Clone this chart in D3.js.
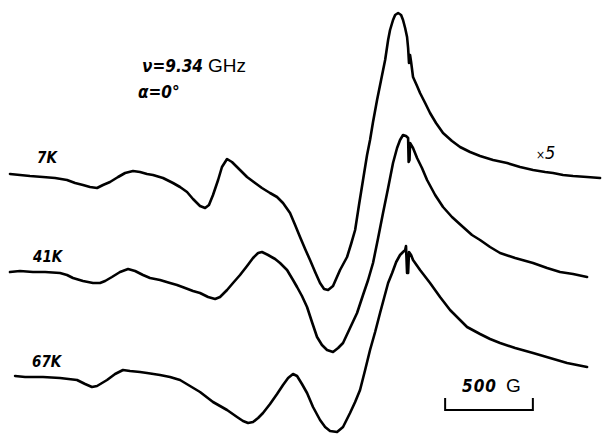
<!DOCTYPE html>
<html>
<head>
<meta charset="utf-8">
<script src="https://cdn.jsdelivr.net/npm/d3@7"></script>
<style>
  body { margin: 0; background: #fff; }
  svg { display: block; }
</style>
</head>
<body>
<svg id="chart"></svg>
<script>
// magnetic field, G (arbitrary origin) and derivative signal, arb. units
var field7K = [0, 57, 114, 188, 257, 325, 371, 416, 456, 496, 530, 570, 616, 656, 701, 741, 781, 815, 872, 929,
    969, 1009, 1043, 1083, 1112, 1134, 1157, 1186, 1208, 1237, 1265, 1311, 1351, 1397, 1436, 1482, 1522, 1556, 1596, 1625,
    1653, 1682, 1710, 1739, 1767, 1790, 1813, 1841, 1881, 1921, 1944, 1967, 1989, 2012, 2035, 2052, 2069, 2092, 2115, 2138,
    2155, 2166, 2183, 2195, 2212, 2229, 2240, 2252, 2263, 2269, 2274, 2280, 2286, 2297, 2320, 2337, 2366, 2394, 2428, 2468,
    2519, 2565, 2622, 2679, 2753, 2833, 2907, 2981, 3050, 3095, 3152, 3209, 3289, 3363];
var signal7K = [1, 0, -1, -2, -3, -5, -8, -10, -12, -13, -10, -7, -2, 2, 4, 3, 1, 0, -3, -8,
    -12, -17, -24, -31, -33, -30, -20, -5, 8, 16, 13, 5, -2, -8, -13, -18, -22, -28, -38, -50,
    -62, -74, -85, -97, -108, -114, -115, -111, -95, -82, -69, -55, -30, -5, 20, 35, 53, 75, 95, 115,
    135, 145, 155, 160, 162, 160, 155, 147, 138, 127, 112, 120, 113, 98, 89, 82, 72, 62, 52, 42,
    34, 28, 23, 19, 15, 12, 8, 5, 3, 2, 0, -1, -2, -3];

var field41K = [0, 57, 131, 200, 285, 325, 359, 416, 473, 513, 542, 581, 627, 673, 713, 758, 798, 855, 912, 952,
    998, 1043, 1083, 1129, 1169, 1197, 1237, 1271, 1311, 1351, 1385, 1414, 1436, 1471, 1511, 1539, 1579, 1613, 1636, 1664,
    1693, 1721, 1750, 1778, 1807, 1841, 1870, 1898, 1938, 1978, 2012, 2041, 2069, 2098, 2126, 2155, 2183, 2206, 2223, 2240,
    2257, 2269, 2272, 2277, 2280, 2297, 2320, 2348, 2377, 2423, 2468, 2519, 2582, 2633, 2679, 2736, 2793, 2879, 2981, 3061,
    3135, 3209, 3289];
var signal41K = [0, 1, 0, 0, -1, -3, -6, -9, -11, -11, -9, -5, 0, 3, 1, -3, -6, -8, -11, -13,
    -16, -19, -21, -25, -27, -25, -18, -11, -3, 6, 14, 19, 20, 17, 13, 9, 2, -8, -15, -24,
    -35, -50, -65, -73, -78, -80, -76, -71, -56, -41, -23, -8, 9, 34, 59, 84, 109, 124, 132, 137,
    136, 134, 110, 112, 129, 124, 114, 104, 92, 77, 65, 55, 45, 37, 32, 25, 19, 14, 9, 4,
    0, -2, -5];

var field67K = [29, 86, 188, 285, 382, 428, 467, 496, 553, 599, 644, 684, 741, 781, 855, 912, 969, 1026, 1083, 1157,
    1237, 1294, 1328, 1357, 1385, 1414, 1442, 1482, 1522, 1556, 1585, 1613, 1636, 1664, 1693, 1727, 1767, 1796, 1824, 1864,
    1898, 1938, 1967, 1995, 2024, 2052, 2081, 2109, 2132, 2155, 2178, 2201, 2223, 2240, 2252, 2257, 2263, 2269, 2274, 2286,
    2297, 2337, 2394, 2451, 2508, 2565, 2605, 2679, 2736, 2793, 2879, 2981, 3078, 3175, 3232, 3289];
var signal67K = [0, -1, -1, -2, -4, -8, -11, -10, -4, 2, 6, 5, 4, 3, 1, -1, -4, -10, -16, -26,
    -34, -41, -45, -47, -46, -42, -37, -28, -18, -9, -2, 2, 0, -8, -17, -31, -44, -51, -55, -56,
    -51, -37, -26, -14, 6, 26, 44, 63, 78, 93, 103, 114, 121, 124, 126, 130, 103, 103, 124, 121,
    116, 106, 93, 79, 66, 56, 49, 42, 37, 33, 28, 23, 18, 13, 11, 9];

var temps = ["7K", "41K", "67K"];
var offsets = [0, -97, -201];
var barStart = 2480, barLength = 500;

var traces = [
    { t: temps[0], off: offsets[0], pts: d3.zip(field7K, signal7K) },
    { t: temps[1], off: offsets[1], pts: d3.zip(field41K, signal41K) },
    { t: temps[2], off: offsets[2], pts: d3.zip(field67K, signal67K) }
];

var svgWidth = 602, svgHeight = 435;
var svg = d3.select("#chart")
    .attr("width", svgWidth)
    .attr("height", svgHeight);

var x = d3.scaleLinear().domain([0, 3374]).range([10, 602]);
var y = d3.scaleLinear().domain([-260, 175]).range([435, 0]);

var hand = "'DejaVu Sans Condensed', 'DejaVu Sans', sans-serif";
var plain = "'Liberation Sans', Arial, sans-serif";

traces.forEach(function(tr, i) {
    var line = d3.line()
        .x(function(d) { return x(d[0]) })
        .y(function(d) { return y(d[1] + tr.off) });

    svg.append("path")
        .datum(tr.pts)
        .attr("fill", "none")
        .attr("stroke", "#000")
        .attr("stroke-width", 2.6)
        .attr("stroke-linejoin", "round")
        .attr("stroke-linecap", "round")
        .attr("d", line);

    svg.append("text")
        .attr("x", x(0) + [27, 23, 22][i])
        .attr("y", y(tr.off) - [12, 10, 9][i])
        .attr("font-family", hand)
        .attr("font-style", "italic")
        .attr("font-weight", "bold")
        .attr("font-size", "15px")
        .attr("fill", "#000")
        .text(tr.t);
});

// header
svg.append("text")
    .attr("x", 142).attr("y", 72)
    .attr("font-family", hand)
    .attr("font-style", "italic")
    .attr("font-weight", "bold")
    .attr("font-size", "17px")
    .text("ν=9.34");
svg.append("text")
    .attr("x", 208).attr("y", 72)
    .attr("font-family", plain)
    .attr("font-size", "19px")
    .text("GHz");
svg.append("text")
    .attr("x", 138).attr("y", 98)
    .attr("font-family", hand)
    .attr("font-style", "italic")
    .attr("font-weight", "bold")
    .attr("font-size", "17px")
    .text("α=0°");

svg.append("text")
    .attr("x", 536).attr("y", 159)
    .attr("font-family", hand)
    .attr("font-style", "italic")
    .attr("font-size", "12px")
    .text("×")
    .append("tspan")
    .attr("font-size", "18px")
    .text("5");

// 500 G scale bar
var barY = 410;
svg.append("path")
    .attr("fill", "none")
    .attr("stroke", "#000")
    .attr("stroke-width", 2)
    .attr("d", "M" + x(barStart) + "," + (barY - 12) + "V" + barY +
        "H" + x(barStart + barLength) + "V" + (barY - 12));

svg.append("text")
    .attr("x", 462).attr("y", 392)
    .attr("font-family", hand)
    .attr("font-style", "italic")
    .attr("font-weight", "bold")
    .attr("font-size", "17px")
    .attr("letter-spacing", "1px")
    .text(barLength);
svg.append("text")
    .attr("x", 506).attr("y", 392)
    .attr("font-family", plain)
    .attr("font-size", "19px")
    .text("G");
</script>
</body>
</html>
